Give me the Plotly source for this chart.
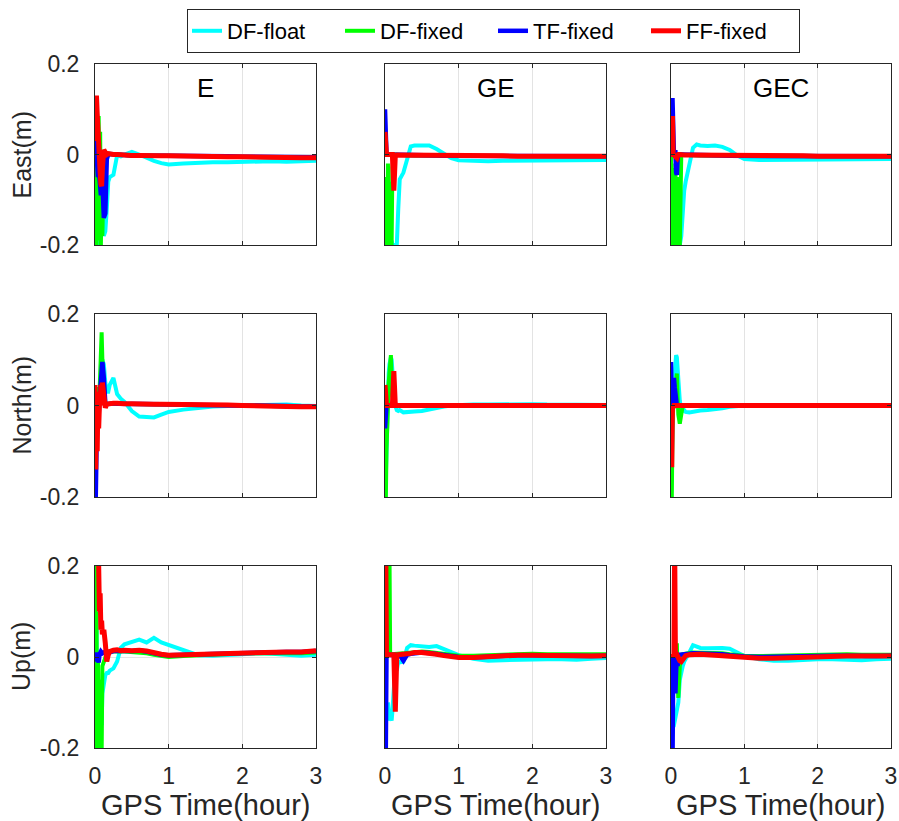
import plotly.graph_objects as go
from plotly.subplots import make_subplots

# ---------------- data ----------------
t_hour = [0.00, 0.01, 0.02, 0.03, 0.04, 0.05, 0.06, 0.07, 0.08, 0.09, 0.10,
          0.12, 0.14, 0.16, 0.18, 0.20, 0.25, 0.30, 0.35, 0.40, 0.50, 0.60, 0.70, 0.80, 0.90,
          1.00, 1.20, 1.40, 1.60, 1.80, 2.00, 2.20, 2.40, 2.60, 2.80, 3.00]

# East, E
east_E_float = [-0.22, -0.20, -0.19, -0.20, -0.17, -0.19, -0.16, -0.18, -0.15, -0.17, -0.16,
                -0.18, -0.17, -0.12, -0.06, -0.05, -0.045, -0.002, -0.004, 0.000, 0.006, 0.000, -0.008, -0.014, -0.019,
                -0.022, -0.020, -0.018, -0.017, -0.017, -0.016, -0.016, -0.015, -0.016, -0.015, -0.014]
east_E_dffix = [-0.20, -0.05, -0.22, 0.02, -0.15, 0.085, -0.19, 0.05, -0.20, -0.10, -0.18,
                -0.02, 0.002, 0.000, 0.002, 0.001, 0.000, 0.000, -0.001, -0.001, -0.002, -0.002, -0.002, -0.003, -0.003,
                -0.003, -0.004, -0.004, -0.004, -0.005, -0.005, -0.005, -0.006, -0.006, -0.007, -0.007]
east_E_tf = [0.06, 0.03, 0.00, -0.02, -0.05, -0.03, -0.07, -0.05, -0.09, -0.08, -0.06,
             -0.14, -0.13, -0.01, 0.000, 0.001, 0.000, -0.001, -0.001, -0.001, -0.002, -0.002, -0.002, -0.002, -0.003,
             -0.003, -0.003, -0.004, -0.004, -0.004, -0.005, -0.005, -0.005, -0.006, -0.006, -0.006]
east_E_ff = [0.03, 0.12, 0.13, 0.09, 0.04, 0.00, -0.02, -0.04, -0.065, -0.07, -0.03,
             0.01, 0.005, 0.000, 0.002, 0.001, 0.000, 0.000, -0.001, -0.001, -0.002, -0.002, -0.003, -0.003, -0.003,
             -0.003, -0.004, -0.004, -0.005, -0.005, -0.005, -0.006, -0.006, -0.006, -0.007, -0.007]

# East, GE
east_GE_float = [-0.25, -0.20, -0.22, -0.20, -0.22, -0.20, -0.21, -0.20, -0.20, -0.19, -0.20,
                 -0.20, -0.20, -0.20, -0.12, -0.055, -0.04, -0.01, 0.018, 0.020, 0.020, 0.020, 0.012, 0.003, -0.008,
                 -0.013, -0.015, -0.015, -0.014, -0.014, -0.013, -0.013, -0.013, -0.012, -0.012, -0.012]
east_GE_dffix = [-0.10, -0.22, -0.05, -0.21, -0.02, -0.20, -0.10, -0.22, -0.06, -0.20, -0.03,
                 0.000, 0.000, -0.001, -0.001, -0.001, -0.001, -0.002, -0.002, -0.002, -0.002, -0.003, -0.003, -0.003, -0.003,
                 -0.003, -0.003, -0.004, -0.004, -0.004, -0.004, -0.004, -0.004, -0.004, -0.004, -0.004]
east_GE_tf = [0.10, 0.000, 0.000, 0.000, 0.000, 0.000, 0.000, 0.000, 0.000, 0.000, 0.000,
              0.000, 0.000, -0.001, -0.001, -0.001, -0.001, -0.001, -0.002, -0.002, -0.002, -0.002, -0.002, -0.003, -0.003,
              -0.003, -0.003, -0.003, -0.003, -0.004, -0.004, -0.004, -0.004, -0.004, -0.004, -0.004]
east_GE_ff = [0.05, 0.000, 0.000, 0.000, 0.000, 0.000, 0.000, 0.000, 0.000, 0.000, 0.000,
              -0.08, -0.002, -0.001, -0.001, -0.001, -0.001, -0.001, -0.002, -0.002, -0.002, -0.002, -0.002, -0.003, -0.003,
              -0.003, -0.003, -0.003, -0.003, -0.004, -0.004, -0.004, -0.004, -0.004, -0.004, -0.004]

# East, GEC
east_GEC_float = [-0.25, -0.22, -0.20, -0.22, -0.20, -0.21, -0.20, -0.22, -0.20, -0.21, -0.20,
                  -0.20, -0.18, -0.12, -0.08, -0.06, -0.02, 0.015, 0.022, 0.020, 0.019, 0.020, 0.017, 0.010, -0.002,
                  -0.010, -0.012, -0.012, -0.012, -0.011, -0.011, -0.011, -0.010, -0.011, -0.010, -0.010]
east_GEC_dffix = [0.00, -0.22, -0.03, -0.22, -0.05, -0.21, -0.02, -0.20, -0.05, -0.22, -0.10,
                  -0.20, 0.000, -0.001, -0.001, -0.001, -0.001, -0.002, -0.002, -0.002, -0.002, -0.002, -0.003, -0.003, -0.003,
                  -0.003, -0.003, -0.003, -0.004, -0.004, -0.004, -0.004, -0.004, -0.004, -0.004, -0.004]
east_GEC_tf = [0.000, 0.000, 0.125, 0.005, 0.000, 0.005, 0.005, -0.04, -0.045, -0.01, 0.000,
               0.000, 0.000, -0.001, -0.001, -0.001, -0.001, -0.001, -0.002, -0.002, -0.002, -0.002, -0.002, -0.003, -0.003,
               -0.003, -0.003, -0.003, -0.003, -0.003, -0.004, -0.004, -0.004, -0.004, -0.004, -0.004]
east_GEC_ff = [0.000, 0.000, 0.085, -0.005, 0.000, -0.003, -0.005, -0.008, -0.008, -0.003, 0.000,
               0.000, -0.001, -0.001, -0.001, -0.001, -0.001, -0.001, -0.002, -0.002, -0.002, -0.002, -0.002, -0.003, -0.003,
               -0.003, -0.003, -0.003, -0.003, -0.003, -0.004, -0.004, -0.004, -0.004, -0.004, -0.004]

# North, E
north_E_float = [-0.10, -0.05, 0.00, -0.03, 0.02, 0.00, 0.03, 0.05, 0.05, 0.09, 0.10,
                 0.09, 0.05, 0.03, 0.03, 0.045, 0.060, 0.025, 0.015, 0.008, -0.012, -0.024, -0.025, -0.026, -0.020,
                 -0.014, -0.009, -0.005, -0.002, -0.001, 0.000, 0.001, 0.001, 0.002, 0.000, -0.001]
north_E_dffix = [-0.05, 0.00, -0.03, 0.02, 0.00, 0.04, 0.02, 0.06, 0.12, 0.16, 0.10,
                 0.03, 0.005, 0.004, 0.004, 0.005, 0.005, 0.004, 0.004, 0.004, 0.003, 0.003, 0.003, 0.003, 0.002,
                 0.002, 0.002, 0.001, 0.001, 0.000, 0.000, 0.000, -0.001, -0.001, -0.002, -0.002]
north_E_tf = [-0.22, -0.20, -0.10, -0.05, 0.00, -0.02, 0.01, 0.03, 0.06, 0.08, 0.095,
              0.06, 0.005, 0.003, 0.004, 0.004, 0.005, 0.004, 0.004, 0.004, 0.003, 0.003, 0.003, 0.003, 0.002,
              0.002, 0.002, 0.001, 0.001, 0.000, 0.000, 0.000, -0.001, -0.001, -0.002, -0.002]
north_E_ff = [0.045, -0.14, 0.03, -0.10, 0.02, -0.05, 0.00, 0.01, 0.045, 0.00, 0.05,
              0.02, -0.005, 0.003, 0.004, 0.005, 0.005, 0.005, 0.004, 0.004, 0.004, 0.003, 0.003, 0.003, 0.003,
              0.003, 0.002, 0.002, 0.001, 0.001, 0.000, 0.000, -0.001, -0.002, -0.003, -0.003]

# North, GE
north_GE_float = [-0.22, -0.15, -0.05, 0.00, 0.04, 0.07, 0.09, 0.10, 0.105, 0.10, 0.07,
                  0.03, 0.00, -0.010, -0.012, -0.010, -0.015, -0.014, -0.012, -0.013, -0.012, -0.008, -0.005, -0.002, 0.000,
                  0.001, 0.002, 0.002, 0.003, 0.003, 0.003, 0.002, 0.002, 0.002, 0.001, 0.001]
north_GE_dffix = [0.00, -0.22, -0.10, -0.02, 0.03, 0.05, 0.07, 0.10, 0.11, 0.06, 0.02,
                  0.002, 0.001, 0.001, 0.001, 0.001, 0.001, 0.001, 0.001, 0.001, 0.001, 0.001, 0.001, 0.001, 0.001,
                  0.001, 0.001, 0.001, 0.001, 0.001, 0.001, 0.001, 0.001, 0.000, 0.000, 0.000]
north_GE_tf = [-0.05, 0.000, 0.000, 0.000, 0.000, 0.000, 0.000, 0.000, 0.000, 0.000, 0.000,
               0.000, 0.000, 0.000, 0.000, 0.000, 0.000, 0.000, 0.000, 0.000, 0.000, 0.000, 0.000, 0.000, 0.000,
               0.000, 0.000, 0.000, 0.000, 0.000, 0.000, 0.000, 0.000, 0.000, 0.000, 0.000]
north_GE_ff = [0.045, 0.000, 0.000, 0.000, 0.000, 0.000, 0.000, 0.000, 0.000, 0.000, 0.000,
               0.075, 0.000, 0.000, 0.000, 0.000, 0.000, 0.000, 0.000, 0.000, 0.000, 0.000, 0.000, 0.000, 0.000,
               0.000, 0.000, 0.000, 0.000, 0.000, 0.000, 0.000, 0.000, 0.000, 0.000, 0.000]

# North, GEC
north_GEC_float = [-0.20, -0.10, -0.03, 0.02, 0.05, 0.08, 0.10, 0.11, 0.105, 0.08, 0.05,
                   0.01, -0.010, -0.012, -0.010, -0.014, -0.015, -0.013, -0.012, -0.011, -0.010, -0.009, -0.006, -0.003, -0.001,
                   0.000, 0.001, 0.001, 0.001, 0.001, 0.001, 0.001, 0.001, 0.001, 0.001, 0.001]
north_GEC_dffix = [0.00, -0.22, -0.05, 0.02, 0.04, 0.06, 0.03, 0.05, 0.07, 0.02, -0.02,
                   -0.04, -0.01, 0.000, 0.000, 0.000, 0.000, 0.000, 0.000, 0.000, 0.000, 0.000, 0.000, 0.000, 0.000,
                   0.000, 0.000, 0.000, 0.000, 0.000, 0.000, 0.000, 0.000, 0.000, 0.000, 0.000]
north_GEC_tf = [0.095, 0.00, 0.02, 0.05, 0.06, 0.04, 0.02, 0.00, 0.000, 0.000, 0.000,
                0.000, 0.000, 0.000, 0.000, 0.000, 0.000, 0.000, 0.000, 0.000, 0.000, 0.000, 0.000, 0.000, 0.000,
                0.000, 0.000, 0.000, 0.000, 0.000, 0.000, 0.000, 0.000, 0.000, 0.000, 0.000]
north_GEC_ff = [0.000, -0.135, 0.000, -0.005, 0.000, 0.000, 0.000, 0.000, 0.000, 0.000, 0.000,
                0.000, 0.000, 0.000, 0.000, 0.000, 0.000, 0.000, 0.000, 0.000, 0.000, 0.000, 0.000, 0.000, 0.000,
                0.000, 0.000, 0.000, 0.000, 0.000, 0.000, 0.000, 0.000, 0.000, 0.000, 0.000]

# Up, E
up_E_float = [0.20, -0.20, 0.10, -0.20, 0.00, -0.20, -0.05, -0.20, -0.10, -0.15, -0.08,
              -0.06, -0.04, -0.035, -0.035, -0.030, -0.025, -0.010, 0.020, 0.028, 0.033, 0.038, 0.032, 0.042, 0.032,
              0.026, 0.015, 0.004, 0.003, 0.005, 0.007, 0.008, 0.007, 0.005, 0.003, 0.005]
up_E_dffix = [0.22, -0.22, 0.10, -0.22, 0.00, -0.22, -0.05, -0.22, -0.10, -0.22, -0.02,
              -0.01, 0.005, 0.008, 0.010, 0.012, 0.012, 0.013, 0.012, 0.012, 0.011, 0.010, 0.008, 0.005, 0.002,
              0.000, 0.002, 0.004, 0.006, 0.007, 0.008, 0.008, 0.009, 0.009, 0.008, 0.010]
up_E_tf = [0.000, -0.010, 0.010, 0.000, -0.010, -0.012, 0.005, 0.010, 0.012, 0.010, 0.008,
           0.010, 0.010, 0.008, 0.006, 0.010, 0.013, 0.014, 0.013, 0.014, 0.013, 0.014, 0.012, 0.008, 0.005,
           0.004, 0.005, 0.006, 0.008, 0.009, 0.010, 0.010, 0.011, 0.011, 0.011, 0.013]
up_E_ff = [0.25, 0.25, 0.25, 0.25, 0.22, 0.20, 0.10, 0.14, 0.06, 0.08, 0.05,
           0.06, 0.03, -0.010, 0.005, 0.012, 0.015, 0.016, 0.014, 0.015, 0.014, 0.015, 0.013, 0.009, 0.006,
           0.004, 0.005, 0.006, 0.008, 0.009, 0.010, 0.010, 0.011, 0.011, 0.011, 0.014]

# Up, GE
up_GE_float = [-0.10, -0.12, -0.10, -0.13, -0.10, -0.12, -0.14, -0.13, -0.14, -0.14, -0.12,
               -0.05, -0.02, -0.03, -0.010, -0.012, -0.010, 0.020, 0.026, 0.025, 0.024, 0.022, 0.024, 0.018, 0.012,
               0.004, -0.004, -0.008, -0.007, -0.006, -0.004, -0.005, -0.005, -0.006, -0.004, -0.002]
up_GE_dffix = [0.000, 0.003, 0.005, 0.005, 0.005, 0.005, 0.25, 0.005, 0.006, 0.006, 0.006,
               0.006, 0.006, 0.006, 0.007, 0.007, 0.008, 0.009, 0.010, 0.011, 0.012, 0.011, 0.009, 0.006, 0.004,
               0.003, 0.003, 0.004, 0.006, 0.007, 0.007, 0.006, 0.006, 0.005, 0.005, 0.006]
up_GE_tf = [-0.25, -0.22, 0.000, 0.005, 0.005, 0.005, 0.005, 0.005, 0.005, 0.005, 0.005,
            0.005, 0.005, 0.005, 0.005, 0.004, -0.008, 0.005, 0.007, 0.008, 0.010, 0.009, 0.007, 0.004, 0.001,
            0.000, -0.001, 0.001, 0.003, 0.004, 0.004, 0.003, 0.003, 0.002, 0.002, 0.003]
up_GE_ff = [0.25, 0.25, 0.005, 0.005, 0.005, 0.005, 0.005, 0.005, 0.005, 0.005, 0.005,
            0.005, -0.12, 0.004, 0.005, 0.005, 0.006, 0.007, 0.008, 0.010, 0.010, 0.009, 0.006, 0.003, 0.000,
            -0.001, -0.001, 0.001, 0.004, 0.004, 0.004, 0.003, 0.002, 0.002, 0.002, 0.003]

# Up, GEC
up_GEC_float = [-0.20, -0.18, -0.16, -0.15, -0.15, -0.14, -0.14, -0.13, -0.12, -0.11, -0.10,
                -0.05, -0.03, -0.02, -0.010, -0.005, 0.010, 0.026, 0.022, 0.020, 0.019, 0.020, 0.020, 0.018, 0.010,
                0.002, -0.005, -0.008, -0.008, -0.006, -0.005, -0.005, -0.006, -0.007, -0.005, -0.004]
up_GEC_dffix = [0.000, 0.005, 0.000, 0.005, 0.000, 0.005, 0.010, 0.000, 0.030, -0.050, -0.090,
                -0.020, 0.005, 0.006, 0.007, 0.008, 0.009, 0.010, 0.010, 0.010, 0.010, 0.009, 0.008, 0.006, 0.004,
                0.003, 0.002, 0.003, 0.004, 0.005, 0.006, 0.006, 0.006, 0.005, 0.005, 0.005]
up_GEC_tf = [-0.10, 0.000, -0.25, 0.000, -0.020, -0.050, -0.080, -0.030, 0.000, -0.020, 0.005,
             0.005, 0.005, 0.005, 0.005, 0.006, 0.007, 0.008, 0.008, 0.008, 0.008, 0.007, 0.006, 0.004, 0.002,
             0.001, 0.000, 0.001, 0.002, 0.003, 0.003, 0.003, 0.003, 0.002, 0.002, 0.003]
up_GEC_ff = [0.000, 0.005, 0.000, 0.005, 0.000, 0.25, 0.005, 0.010, 0.005, 0.000, -0.005,
             -0.008, -0.010, -0.005, 0.000, 0.003, 0.005, 0.006, 0.006, 0.006, 0.005, 0.004, 0.003, 0.001, 0.000,
             -0.002, -0.003, -0.003, -0.002, 0.000, 0.002, 0.002, 0.002, 0.002, 0.002, 0.002]

component_labels = ["East(m)", "North(m)", "Up(m)"]
system_labels = ["E", "GE", "GEC"]
series_names = ["DF-float", "DF-fixed", "TF-fixed", "FF-fixed"]
x_tick_vals = [0, 1, 2, 3]
y_tick_vals = [-0.2, 0, 0.2]
y_tick_text = ["-0.2", "0", "0.2"]
x_label = "GPS Time(hour)"

panels = [
    [[east_E_float, east_E_dffix, east_E_tf, east_E_ff],
     [east_GE_float, east_GE_dffix, east_GE_tf, east_GE_ff],
     [east_GEC_float, east_GEC_dffix, east_GEC_tf, east_GEC_ff]],
    [[north_E_float, north_E_dffix, north_E_tf, north_E_ff],
     [north_GE_float, north_GE_dffix, north_GE_tf, north_GE_ff],
     [north_GEC_float, north_GEC_dffix, north_GEC_tf, north_GEC_ff]],
    [[up_E_float, up_E_dffix, up_E_tf, up_E_ff],
     [up_GE_float, up_GE_dffix, up_GE_tf, up_GE_ff],
     [up_GEC_float, up_GEC_dffix, up_GEC_tf, up_GEC_ff]],
]

# ---------------- style ----------------
series_colors = ["#00FFFF", "#00FF00", "#0000FF", "#FF0000"]
series_widths = [4, 4, 4.5, 5]
W, H = 899, 821
col_px = [(95, 316), (385, 606), (671, 891)]
row_px = [(64, 245), (314, 497), (566, 748)]
FONT = "Liberation Sans, Arial, sans-serif"
AX = "#262626"

fig = make_subplots(rows=3, cols=3)
for r in range(3):
    for c in range(3):
        for k in range(4):
            fig.add_trace(go.Scatter(
                x=t_hour, y=panels[r][c][k], mode="lines", name=series_names[k],
                legendgroup=series_names[k], showlegend=(r == 0 and c == 0),
                line=dict(color=series_colors[k], width=series_widths[k]),
            ), row=r + 1, col=c + 1)

for r in range(3):
    for c in range(3):
        idx = r * 3 + c + 1
        xs = "xaxis" if idx == 1 else f"xaxis{idx}"
        ys = "yaxis" if idx == 1 else f"yaxis{idx}"
        x0, x1 = col_px[c]
        y0, y1 = row_px[r]
        fig.layout[xs].update(
            domain=[x0 / W, x1 / W], range=[0, 3], tickvals=x_tick_vals,
            showticklabels=(r == 2), ticks="inside", ticklen=4, tickcolor=AX, tickwidth=1,
            showline=True, linecolor=AX, linewidth=1, mirror="ticks",
            showgrid=True, gridcolor="#e3e3e3", gridwidth=1, zeroline=False,
            tickfont=dict(family=FONT, size=23, color=AX), ticklabelstandoff=7,
            ticklabeloverflow="allow",
        )
        fig.layout[ys].update(
            domain=[1 - y1 / H, 1 - y0 / H], range=[-0.2, 0.2], tickvals=y_tick_vals,
            ticktext=y_tick_text,
            showticklabels=(c == 0), ticks="inside", ticklen=4, tickcolor=AX, tickwidth=1,
            showline=True, linecolor=AX, linewidth=1, mirror="ticks",
            showgrid=True, gridcolor="#e3e3e3", gridwidth=1, zeroline=False,
            tickfont=dict(family=FONT, size=23, color=AX), ticklabelstandoff=10,
        )

annotations = []
for c in range(3):
    cx = (col_px[c][0] + col_px[c][1]) / 2 / W
    annotations.append(dict(text=system_labels[c], x=cx, y=1 - 88 / H, xref="paper", yref="paper",
                            xanchor="center", yanchor="middle", showarrow=False,
                            font=dict(family=FONT, size=26, color="#000000")))
    annotations.append(dict(text=x_label, x=cx, y=1 - 805 / H, xref="paper", yref="paper",
                            xanchor="center", yanchor="middle", showarrow=False,
                            font=dict(family=FONT, size=29, color=AX)))
for r in range(3):
    cy = 1 - (row_px[r][0] + row_px[r][1]) / 2 / H
    annotations.append(dict(text=component_labels[r], x=21 / W, y=cy, xref="paper", yref="paper",
                            xanchor="center", yanchor="middle", showarrow=False, textangle=-90,
                            font=dict(family=FONT, size=25, color=AX)))

fig.update_layout(
    width=W, height=H, margin=dict(l=0, r=0, t=0, b=0, autoexpand=False),
    paper_bgcolor="white", plot_bgcolor="white",
    annotations=annotations,
    showlegend=True,
    legend=dict(orientation="h", x=187 / W, y=1 - 9 / H, xanchor="left", yanchor="top",
                bordercolor=AX, borderwidth=1, bgcolor="white",
                font=dict(family=FONT, size=22, color="#000000"),
                entrywidth=108, entrywidthmode="pixels", itemwidth=30),
)

fig.write_html("out.html")
